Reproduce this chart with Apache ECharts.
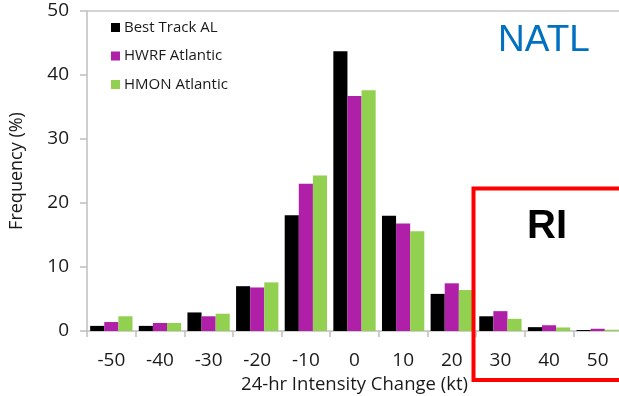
<!DOCTYPE html>
<html>
<head>
<meta charset="utf-8">
<script src="https://cdn.jsdelivr.net/npm/echarts@6/dist/echarts.min.js"></script>
<style>
  html, body { margin: 0; padding: 0; background: #fff; }
  #chart { width: 619px; height: 396px; }
</style>
</head>
<body>
<div id="chart"></div>
<script>
// 24-hr intensity change bins (kt)
const categories = ['-50', '-40', '-30', '-20', '-10', '0', '10', '20', '30', '40', '50'];

// Frequency (%) per bin
const bestTrackAL = [0.8, 0.8, 2.9, 7.0, 18.1, 43.7, 18.0, 5.8, 2.3, 0.6, 0.15];
const hwrfAtlantic = [1.4, 1.25, 2.3, 6.8, 23.0, 36.7, 16.8, 7.45, 3.1, 0.9, 0.35];
const hmonAtlantic = [2.3, 1.25, 2.7, 7.6, 24.3, 37.6, 15.6, 6.4, 1.9, 0.55, 0.2];

const seriesNames = ['Best Track AL', 'HWRF Atlantic', 'HMON Atlantic'];
const seriesColors = ['#000000', '#AF1FA7', '#92D050'];
const seriesData = [bestTrackAL, hwrfAtlantic, hmonAtlantic];

const font = '"Open Sans", "Noto Sans", sans-serif';
const axisGray = '#BFBFBF';
const textColor = '#1a1a1a';

const chart = echarts.init(document.getElementById('chart'), null, { renderer: 'canvas' });

chart.setOption({
  animation: false,
  backgroundColor: '#ffffff',
  textStyle: { fontFamily: font },
  grid: { left: 87, top: 11, right: -3, bottom: 65, containLabel: false, outerBoundsMode: 'none' },
  legend: {
    orient: 'vertical',
    left: 106,
    top: 15,
    itemWidth: 9,
    itemHeight: 9,
    itemGap: 13.5,
    icon: 'rect',
    textStyle: { fontFamily: font, fontSize: 15, color: textColor, lineHeight: 15, padding: [0, 0, 0, -1] },
    data: seriesNames
  },
  xAxis: [
    {
      type: 'category',
      data: categories,
      name: '24-hr Intensity Change (kt)',
      nameLocation: 'middle',
      nameGap: 44,
      nameTextStyle: { fontFamily: font, fontSize: 18.5, color: textColor },
      axisLine: { show: true, lineStyle: { color: axisGray, width: 1.5 } },
      axisTick: { show: true, length: 6, alignWithLabel: false, lineStyle: { color: axisGray, width: 1.5 } },
      axisLabel: { fontFamily: font, fontSize: 19, color: textColor, margin: 20 },
      splitLine: { show: false }
    },
    {
      // plain line along the top of the plot area
      type: 'category',
      data: categories,
      position: 'top',
      axisLine: { show: true, lineStyle: { color: '#C8C8C8', width: 1.5 } },
      axisTick: { show: false },
      axisLabel: { show: false },
      splitLine: { show: false }
    }
  ],
  yAxis: {
    type: 'value',
    min: 0,
    max: 50,
    interval: 10,
    name: 'Frequency (%)',
    nameLocation: 'middle',
    nameGap: 61,
    nameRotate: 90,
    nameTextStyle: { fontFamily: font, fontSize: 18, color: textColor },
    axisLine: { show: true, lineStyle: { color: axisGray, width: 1.5 } },
    axisTick: { show: true, length: 7, lineStyle: { color: axisGray, width: 1.5 } },
    axisLabel: { fontFamily: font, fontSize: 19, color: textColor, margin: 18 },
    splitLine: { show: false }
  },
  series: seriesNames.map((name, i) => ({
    name: name,
    type: 'bar',
    data: seriesData[i],
    barGap: '0%',
    barCategoryGap: '13%',
    itemStyle: { color: seriesColors[i] }
  })),
  graphic: [
    {
      type: 'text',
      left: 498,
      top: 22,
      style: {
        text: 'NATL',
        font: '37px "Liberation Sans", Arial, sans-serif',
        fill: '#0070C0'
      }
    },
    {
      type: 'rect',
      shape: { x: 473.5, y: 188.5, width: 200, height: 191.5 },
      style: { fill: 'none', stroke: '#FF0000', lineWidth: 4 },
      z: 10
    },
    {
      type: 'text',
      left: 527,
      top: 207,
      style: {
        text: 'RI',
        font: 'bold 40px "Liberation Sans", Arial, sans-serif',
        fill: '#000000'
      },
      z: 10
    }
  ]
});
</script>
</body>
</html>
